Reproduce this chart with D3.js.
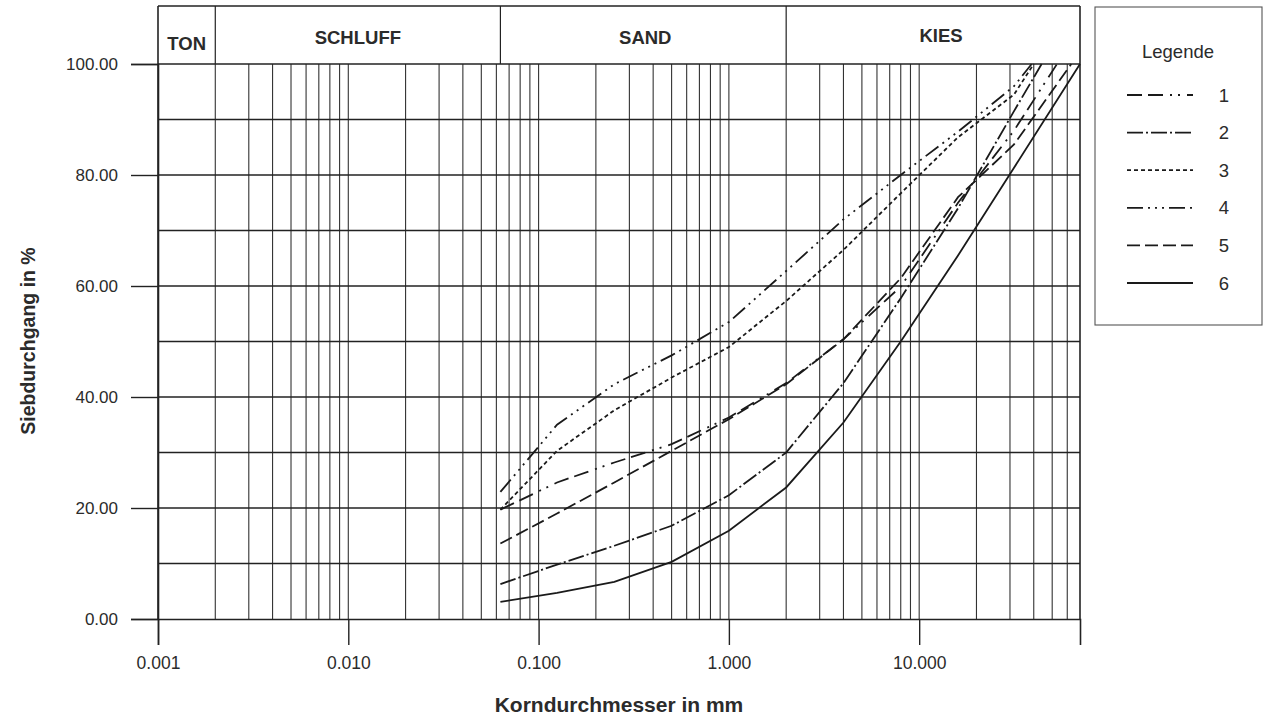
<!DOCTYPE html>
<html><head><meta charset="utf-8">
<script src="https://cdn.jsdelivr.net/npm/d3@7"></script>
<style>
body{margin:0;background:#fff;}
text{font-family:"Liberation Sans",Arial,Helvetica,sans-serif;fill:#2b2b2b;}
</style>
</head><body>
<svg id="c" width="1268" height="717"></svg>
<script>
// ---- data ----
const xTickValues = [0.001, 0.01, 0.1, 1, 10];
const xTickLabels = ["0.001", "0.010", "0.100", "1.000", "10.000"];
const yTickValues = [0, 20, 40, 60, 80, 100];
const yTickLabels = ["0.00", "20.00", "40.00", "60.00", "80.00", "100.00"];
const soilClasses = ["TON", "SCHLUFF", "SAND", "KIES"];
const soilBounds = [0.001, 0.002, 0.063, 2, 70];
const seriesNames = ["1", "2", "3", "4", "5", "6"];

const size1 = [0.063, 0.125, 0.25, 0.5, 1, 2, 4, 8, 16, 31.5, 53];
const pass1 = [19.7, 24.6, 28.2, 31.5, 36.3, 42.5, 50.4, 59.9, 75, 88, 100];
const size2 = [0.063, 0.125, 0.25, 0.5, 1, 2, 4, 8, 16, 31.5, 44];
const pass2 = [6.3, 9.8, 13.2, 16.8, 22.3, 30, 42.5, 57.8, 74, 91.5, 100];
const size3 = [0.063, 0.125, 0.25, 0.5, 1, 2, 4, 8, 16, 31.5, 40];
const pass3 = [19.7, 30.3, 37.6, 43.5, 49, 57.3, 66.5, 76.7, 86.8, 94.5, 100];
const size4 = [0.063, 0.125, 0.25, 0.5, 1, 2, 4, 8, 16, 31.5, 39];
const pass4 = [22.9, 35, 42.3, 47.5, 53.5, 62.7, 72, 80, 87.8, 96, 100];
const size5 = [0.063, 0.125, 0.25, 0.5, 1, 2, 4, 8, 16, 31.5, 63];
const pass5 = [13.6, 19, 24.6, 30.3, 36, 42.3, 50.4, 61.4, 76, 85.5, 100];
const size6 = [0.063, 0.125, 0.25, 0.5, 1, 2, 4, 8, 16, 31.5, 70];
const pass6 = [3.1, 4.7, 6.7, 10.3, 15.9, 23.7, 35.4, 50, 65.5, 81.3, 100];

const seriesSizes = [size1, size2, size3, size4, size5, size6];
const seriesPass = [pass1, pass2, pass3, pass4, pass5, pass6];
const dashes = ["15,6,15,7,2,6,2,7", "16,3,2,3", "4,3", "16,5,2,5,2,5,2,5", "13,5", null];

// ---- layout ----
const svg = d3.select("#c");
const L = 158, R = 1080, T = 64, B = 619, HT = 6;
const x = d3.scaleLog().domain([0.001, 70]).range([L, R]);
const y = d3.scaleLinear().domain([0, 100]).range([B, T]);
const ink = "#222";

// vertical grid lines (log minor grid)
const gridX = [];
[0.001, 0.01, 0.1, 1, 10].forEach(p => { for (let m = 1; m <= 9; m++) { const v = p * m; if (v > 0.001 && v < 70) gridX.push(v); } });
svg.append("g").selectAll("line").data(gridX).join("line")
  .attr("x1", d => x(d)).attr("x2", d => x(d)).attr("y1", T).attr("y2", B)
  .attr("stroke", "#333").attr("stroke-width", 1.1);

// horizontal grid lines
svg.append("g").selectAll("line").data(d3.range(10, 101, 10)).join("line")
  .attr("x1", L).attr("x2", R).attr("y1", d => y(d)).attr("y2", d => y(d))
  .attr("stroke", ink).attr("stroke-width", 1.4);

// header band
svg.append("line").attr("x1", L).attr("x2", R).attr("y1", HT).attr("y2", HT).attr("stroke", ink).attr("stroke-width", 1.5);
svg.append("g").selectAll("line").data(soilBounds).join("line")
  .attr("x1", d => x(d)).attr("x2", d => x(d)).attr("y1", HT).attr("y2", (d, i) => (i === 0 || i === soilBounds.length - 1) ? B : T)
  .attr("stroke", ink).attr("stroke-width", (d, i) => (i === 0 || i === soilBounds.length - 1) ? 1.6 : 1.2);
const headerBase = [50, 44, 44, 42];
const headerShift = [0, 0, 2, 8];
svg.append("g").selectAll("text").data(soilClasses).join("text")
  .attr("x", (d, i) => (x(soilBounds[i]) + x(soilBounds[i + 1])) / 2 + headerShift[i])
  .attr("y", (d, i) => headerBase[i])
  .attr("text-anchor", "middle").attr("font-size", 18.5).attr("font-weight", "bold").text(d => d);

// axes
const xAxis = d3.axisBottom(x).tickValues(xTickValues).tickFormat((d, i) => xTickLabels[i]).tickSize(26).tickPadding(9);
const gx = svg.append("g").attr("transform", `translate(0,${B})`).call(xAxis);
gx.select(".domain").attr("stroke", ink).attr("stroke-width", 1.6);
gx.selectAll(".tick line").attr("stroke", ink).attr("stroke-width", 1.4);
gx.selectAll(".tick text").attr("font-size", 17.5).attr("fill", "#2b2b2b").attr("font-family", "Liberation Sans, Arial, sans-serif").attr("dy", "0.85em");

const yAxis = d3.axisLeft(y).tickValues(yTickValues).tickFormat((d, i) => yTickLabels[i]).tickSize(27).tickPadding(13);
const gy = svg.append("g").attr("transform", `translate(${L},0)`).call(yAxis);
gy.select(".domain").attr("stroke", ink).attr("stroke-width", 1.6);
gy.selectAll(".tick line").attr("stroke", ink).attr("stroke-width", 1.4);
gy.selectAll(".tick text").attr("font-size", 17).attr("fill", "#2b2b2b").attr("font-family", "Liberation Sans, Arial, sans-serif");

// axis titles
svg.append("text").attr("x", (L + R) / 2).attr("y", 712).attr("text-anchor", "middle")
  .attr("font-size", 21).attr("font-weight", "bold").text("Korndurchmesser in mm");
svg.append("text").attr("transform", "translate(35,341) rotate(-90)").attr("text-anchor", "middle")
  .attr("font-size", 19.5).attr("font-weight", "bold").text("Siebdurchgang in %");

// curves
const line = d3.line().x(d => x(d[0])).y(d => y(d[1]));
seriesNames.forEach((n, i) => {
  const pts = seriesSizes[i].map((s, j) => [s, seriesPass[i][j]]);
  svg.append("path").datum(pts).attr("d", line).attr("fill", "none")
    .attr("stroke", "#1a1a1a").attr("stroke-width", 1.8)
    .attr("stroke-dasharray", dashes[i]);
});

// legend
const lg = svg.append("g");
lg.append("rect").attr("x", 1095).attr("y", 7).attr("width", 167).attr("height", 318)
  .attr("fill", "none").attr("stroke", "#555").attr("stroke-width", 1.1);
lg.append("text").attr("x", 1178).attr("y", 58).attr("text-anchor", "middle").attr("font-size", 18.5).text("Legende");
const ly = d3.scalePoint().domain(seriesNames).range([95, 283]);
seriesNames.forEach((n, i) => {
  lg.append("line").attr("x1", 1127).attr("x2", 1193).attr("y1", ly(n)).attr("y2", ly(n))
    .attr("stroke", "#1a1a1a").attr("stroke-width", 1.8).attr("stroke-dasharray", dashes[i]);
  lg.append("text").attr("x", 1224).attr("y", ly(n) + 6.5).attr("text-anchor", "middle").attr("font-size", 18.5).text(n);
});
</script>
</body></html>
